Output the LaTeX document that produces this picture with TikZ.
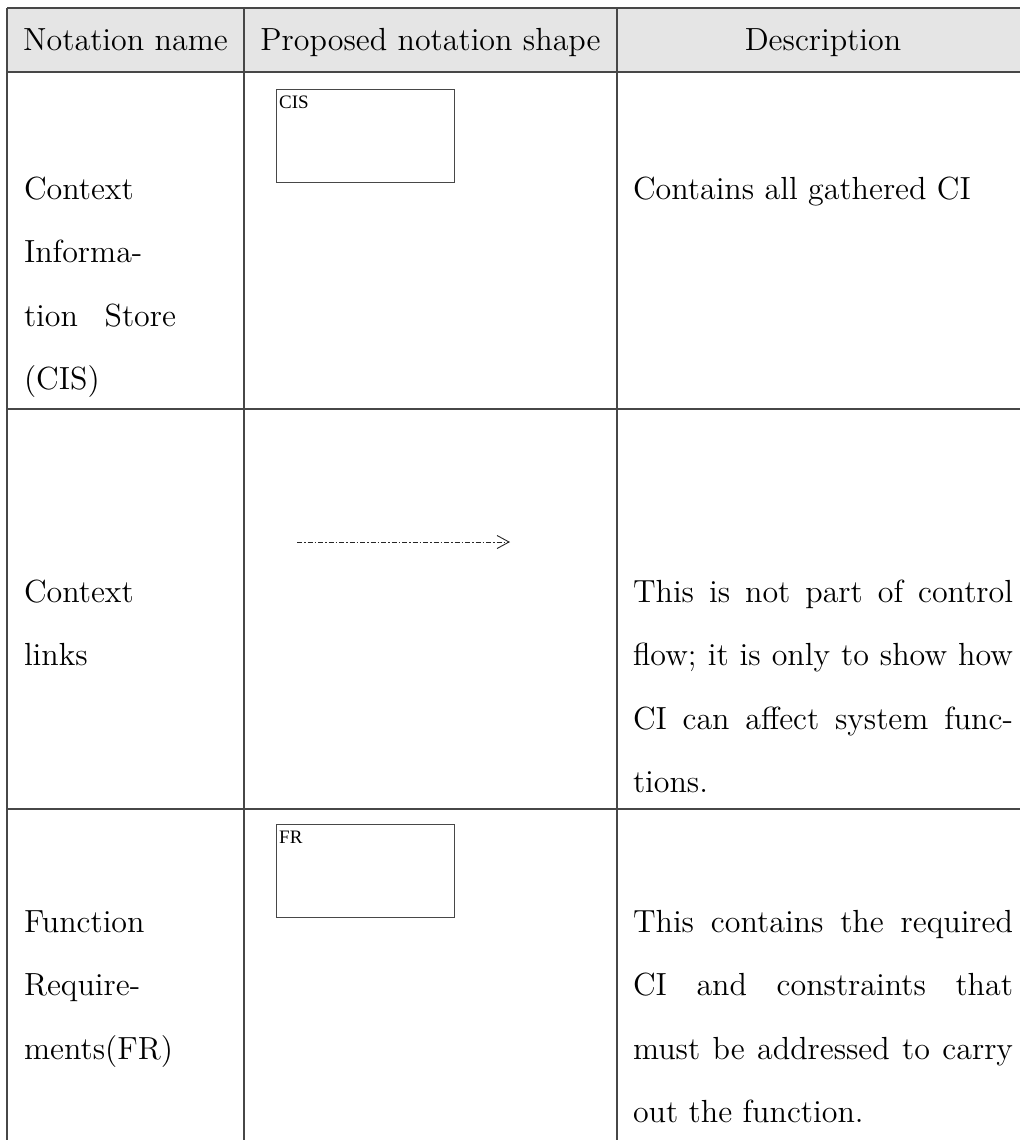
\documentclass[tikz,border=0pt]{standalone}
\usepackage{fontspec}
\setmainfont{lmroman12-regular.otf}
\newfontfamily\labelfont{Liberation Serif}
\usetikzlibrary{arrows.meta}
\definecolor{rule}{gray}{0.28}
\definecolor{headfill}{gray}{0.9}
\begin{document}
\begin{tikzpicture}[x=1pt,y=-1pt,
  cell/.style={inner sep=0pt,outer sep=0pt,font=\fontsize{32}{63.5}\selectfont},
  jcell/.style={cell,text width=#1,align=justify},
  gridline/.style={draw=rule,line width=1.6pt},
  shapebox/.style={draw=rule,line width=1.1pt},
  boxlabel/.style={inner sep=0pt,anchor=north west,font=\labelfont\fontsize{19}{19}\selectfont},
  ctxlink/.style={draw=black!85,line width=0.9pt,dash pattern=on 5pt off 2pt on 1.5pt off 2pt,
    -{Straight Barb[length=12pt,width=13pt,line width=0.9pt]}}]
\useasboundingbox (0,0) rectangle (1020,1140);

% header band
\fill[headfill] (7,8) rectangle (1020,72);

% table rules
\draw[gridline] (7,8) -- (1020,8);
\draw[gridline] (7,72) -- (1020,72);
\draw[gridline] (7,409) -- (1020,409);
\draw[gridline] (7,809) -- (1020,809);
\draw[gridline] (7,8) -- (7,1140);
\draw[gridline] (244,8) -- (244,1140);
\draw[gridline] (617,8) -- (617,1140);

% header texts
\node[cell,anchor=base] (h1) at (125.5,51) {Notation name};
\node[cell,anchor=base] (h2) at (430.5,51) {Proposed notation shape};
\node[cell,anchor=base] (h3) at (823,51) {Description};

% row 1: context information store
\node[jcell=152pt,anchor=base west] (n1) at (24,199)
  {Context\linebreak Informa-\linebreak tion Store\linebreak (CIS)};
\node[shapebox,minimum width=178pt,minimum height=93pt,anchor=north west] (cis) at (276,89) {};
\node[boxlabel] (cisl) at (279,96) {CIS};
\node[cell,anchor=base west] (d1) at (633,199) {Contains all gathered CI};

% row 2: context links
\node[jcell=152pt,anchor=base west] (n2) at (24,602) {Context\linebreak links};
\coordinate (ls) at (297,542);
\coordinate (le) at (510,542);
\draw[ctxlink] (ls) -- (le);
\node[jcell=380pt,anchor=base west] (d2) at (633,602)
  {This is not part of control\linebreak flow; it is only to show how\linebreak CI can affect system func-\linebreak tions.};

% row 3: function requirements
\node[jcell=152pt,anchor=base west] (n3) at (24,932)
  {Function\linebreak Require-\linebreak ments(FR)};
\node[shapebox,minimum width=178pt,minimum height=93pt,anchor=north west] (fr) at (276,824) {};
\node[boxlabel] (frl) at (279,831) {FR};
\node[jcell=380pt,anchor=base west] (d3) at (633,932)
  {This contains the required\linebreak CI and constraints that\linebreak must be addressed to carry\linebreak out the function.};
\end{tikzpicture}
\end{document}
